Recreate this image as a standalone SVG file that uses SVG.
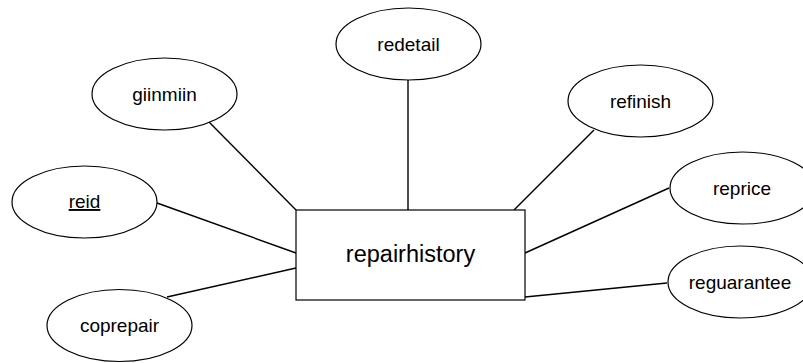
<svg xmlns="http://www.w3.org/2000/svg" width="803" height="363" viewBox="0 0 803 363">
<style>
.attr ellipse{fill:#fff;stroke:#000;stroke-width:1.2}
.lbl{font-family:"Liberation Sans",Arial,sans-serif;font-size:19px;fill:#000;text-anchor:middle}
.title{font-family:"Liberation Sans",Arial,sans-serif;font-size:23.5px;fill:#000;text-anchor:middle}
#connectors line{stroke:#000;stroke-width:1.4}
</style>
<rect width="803" height="363" fill="#fff"/>
<g id="connectors">
<line x1="209" y1="122" x2="296" y2="210"/>
<line x1="408" y1="80" x2="408" y2="210"/>
<line x1="594" y1="130" x2="514" y2="210"/>
<line x1="157" y1="203" x2="296" y2="253"/>
<line x1="167" y1="297" x2="296" y2="268"/>
<line x1="525" y1="253" x2="669" y2="188"/>
<line x1="525" y1="297" x2="667" y2="283"/>
</g>
<g id="repairhistory">
<rect x="296" y="210" width="229" height="90" fill="#fff" stroke="#000" stroke-width="1.2"/>
<text class="title" x="410.5" y="262">repairhistory</text>
</g>
<g id="giinmiin" class="attr">
<ellipse cx="164.5" cy="94" rx="72.5" ry="36"/>
<text class="lbl" x="164.5" y="100.5">giinmiin</text>
</g>
<g id="redetail" class="attr">
<ellipse cx="408.5" cy="44" rx="72.5" ry="36"/>
<text class="lbl" x="408.5" y="50.5">redetail</text>
</g>
<g id="refinish" class="attr">
<ellipse cx="640.5" cy="101" rx="72.5" ry="36"/>
<text class="lbl" x="640.5" y="107.5">refinish</text>
</g>
<g id="reprice" class="attr">
<ellipse cx="742.5" cy="188" rx="72.5" ry="36"/>
<text class="lbl" x="742" y="194.5">reprice</text>
</g>
<g id="reguarantee" class="attr">
<ellipse cx="740.5" cy="282" rx="72.5" ry="36"/>
<text class="lbl" x="740" y="288.5">reguarantee</text>
</g>
<g id="reid" class="attr">
<ellipse cx="84.5" cy="202" rx="72.5" ry="36"/>
<text class="lbl" x="84.5" y="208" text-decoration="underline">reid</text>
</g>
<g id="coprepair" class="attr">
<ellipse cx="119.5" cy="325.5" rx="72.5" ry="36"/>
<text class="lbl" x="119.5" y="332">coprepair</text>
</g>
</svg>
